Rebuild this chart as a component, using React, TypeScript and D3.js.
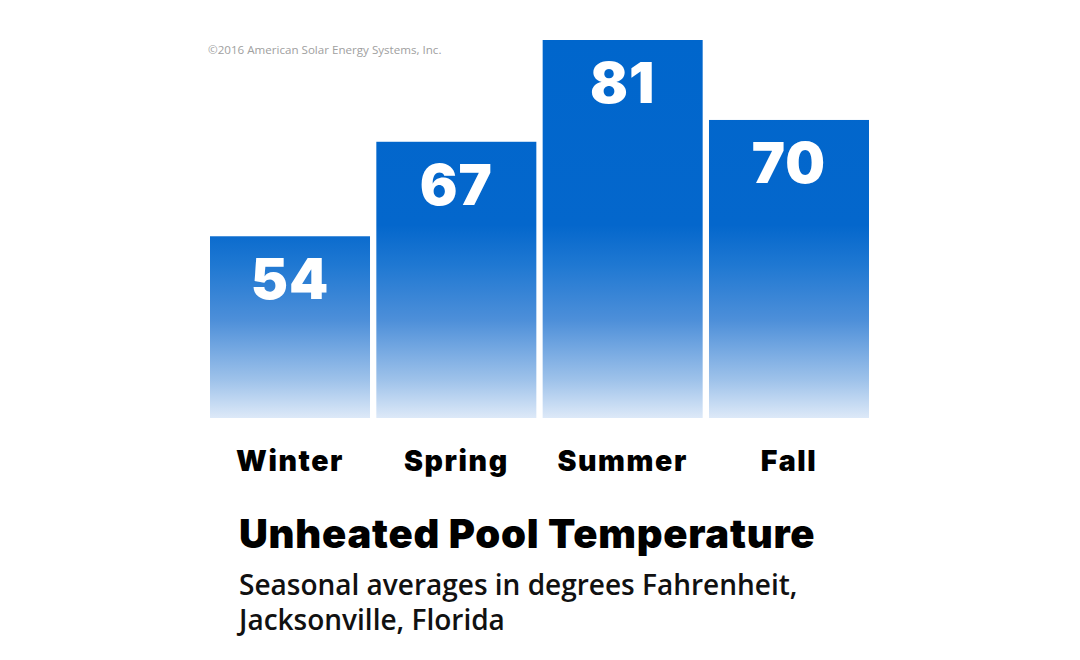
import React, { useEffect, useRef } from 'react';
import * as d3 from 'd3';

const seasons = ['Winter', 'Spring', 'Summer', 'Fall'];
const temps = [54, 67, 81, 70];
const yDomain = [29, 81];

const title = 'Unheated Pool Temperature';
const subtitleLines = ['Seasonal averages in degrees Fahrenheit,', 'Jacksonville, Florida'];
const credit = '©2016 American Solar Energy Systems, Inc.';

const App: React.FC = () => {
  const svgRef = useRef<SVGSVGElement>(null);

  useEffect(() => {
    if (!svgRef.current) return;
    const svg = d3.select(svgRef.current);
    svg.selectAll('*').remove();

    const W = 1080;
    const H = 660;
    const left = 210;
    const right = 869;
    const top = 40;
    const base = 418;

    const data = seasons.map((s, i) => ({ season: s, temp: temps[i] }));

    const x = d3.scaleBand<string>()
      .domain(seasons)
      .range([left, right])
      .paddingInner(0.038)
      .paddingOuter(0);

    const y = d3.scaleLinear()
      .domain(yDomain)
      .range([base, top]);

    svg.attr('width', W).attr('height', H);

    svg.append('rect').attr('width', W).attr('height', H).attr('fill', '#fff');

    // gradient spans the plot, so every bar fades the same way
    const grad = svg.append('defs')
      .append('linearGradient')
      .attr('id', 'barFade')
      .attr('gradientUnits', 'userSpaceOnUse')
      .attr('x1', 0).attr('x2', 0)
      .attr('y1', top).attr('y2', base);
    const span = base - top;
    const stops: [number, string][] = [
      [0, '#0066cc'],
      [(225 - top) / span, '#0467cc'],
      [(265 - top) / span, '#1f78d2'],
      [(320 - top) / span, '#4d8fd9'],
      [(380 - top) / span, '#9ec2ea'],
      [1, '#dde9f8'],
    ];
    stops.forEach(([o, c]) => {
      grad.append('stop').attr('offset', o).attr('stop-color', c);
    });

    svg.append('text')
      .attr('x', 208)
      .attr('y', 54)
      .attr('font-family', '"Open Sans", sans-serif')
      .attr('font-size', 11.6)
      .attr('fill', '#a0a0a0')
      .text(credit);

    const bars = svg.append('g');
    bars.selectAll('rect')
      .data(data)
      .enter()
      .append('rect')
      .attr('x', d => x(d.season) as number)
      .attr('y', d => y(d.temp))
      .attr('width', x.bandwidth())
      .attr('height', d => base - y(d.temp))
      .attr('fill', 'url(#barFade)');

    bars.selectAll('text.val')
      .data(data)
      .enter()
      .append('text')
      .attr('class', 'val')
      .attr('x', d => (x(d.season) as number) + x.bandwidth() / 2)
      .attr('y', d => y(d.temp) + 63)
      .attr('text-anchor', 'middle')
      .attr('font-family', 'Inter, "DejaVu Sans", sans-serif')
      .attr('font-weight', 900)
      .attr('font-size', 56)
      .attr('letter-spacing', 1)
      .attr('fill', '#fff')
      .text(d => d.temp);

    const xAxis = svg.append('g')
      .attr('transform', `translate(0,${base})`)
      .call(d3.axisBottom(x).tickSize(0).tickPadding(0));
    xAxis.select('.domain').remove();
    xAxis.selectAll('text')
      .attr('y', 53)
      .attr('dy', 0)
      .attr('font-family', 'Inter, "DejaVu Sans", sans-serif')
      .attr('font-weight', 900)
      .attr('font-size', 28.5)
      .attr('letter-spacing', 1.6)
      .attr('fill', '#000');

    svg.append('text')
      .attr('x', 239)
      .attr('y', 548)
      .attr('font-family', 'Inter, "DejaVu Sans", sans-serif')
      .attr('font-weight', 900)
      .attr('font-size', 40)
      .attr('letter-spacing', 0.75)
      .attr('fill', '#000')
      .text(title);

    subtitleLines.forEach((line, i) => {
      svg.append('text')
        .attr('x', 239)
        .attr('y', 595 + i * 35)
        .attr('font-family', '"Open Sans", sans-serif')
        .attr('font-weight', 600)
        .attr('font-size', 28)
        .attr('fill', '#111')
        .text(line);
    });
  }, []);

  return (
    <div style={{ width: 1080, height: 660, margin: -8 }}>
      <svg ref={svgRef} style={{ display: 'block' }}></svg>
    </div>
  );
};

export default App;
